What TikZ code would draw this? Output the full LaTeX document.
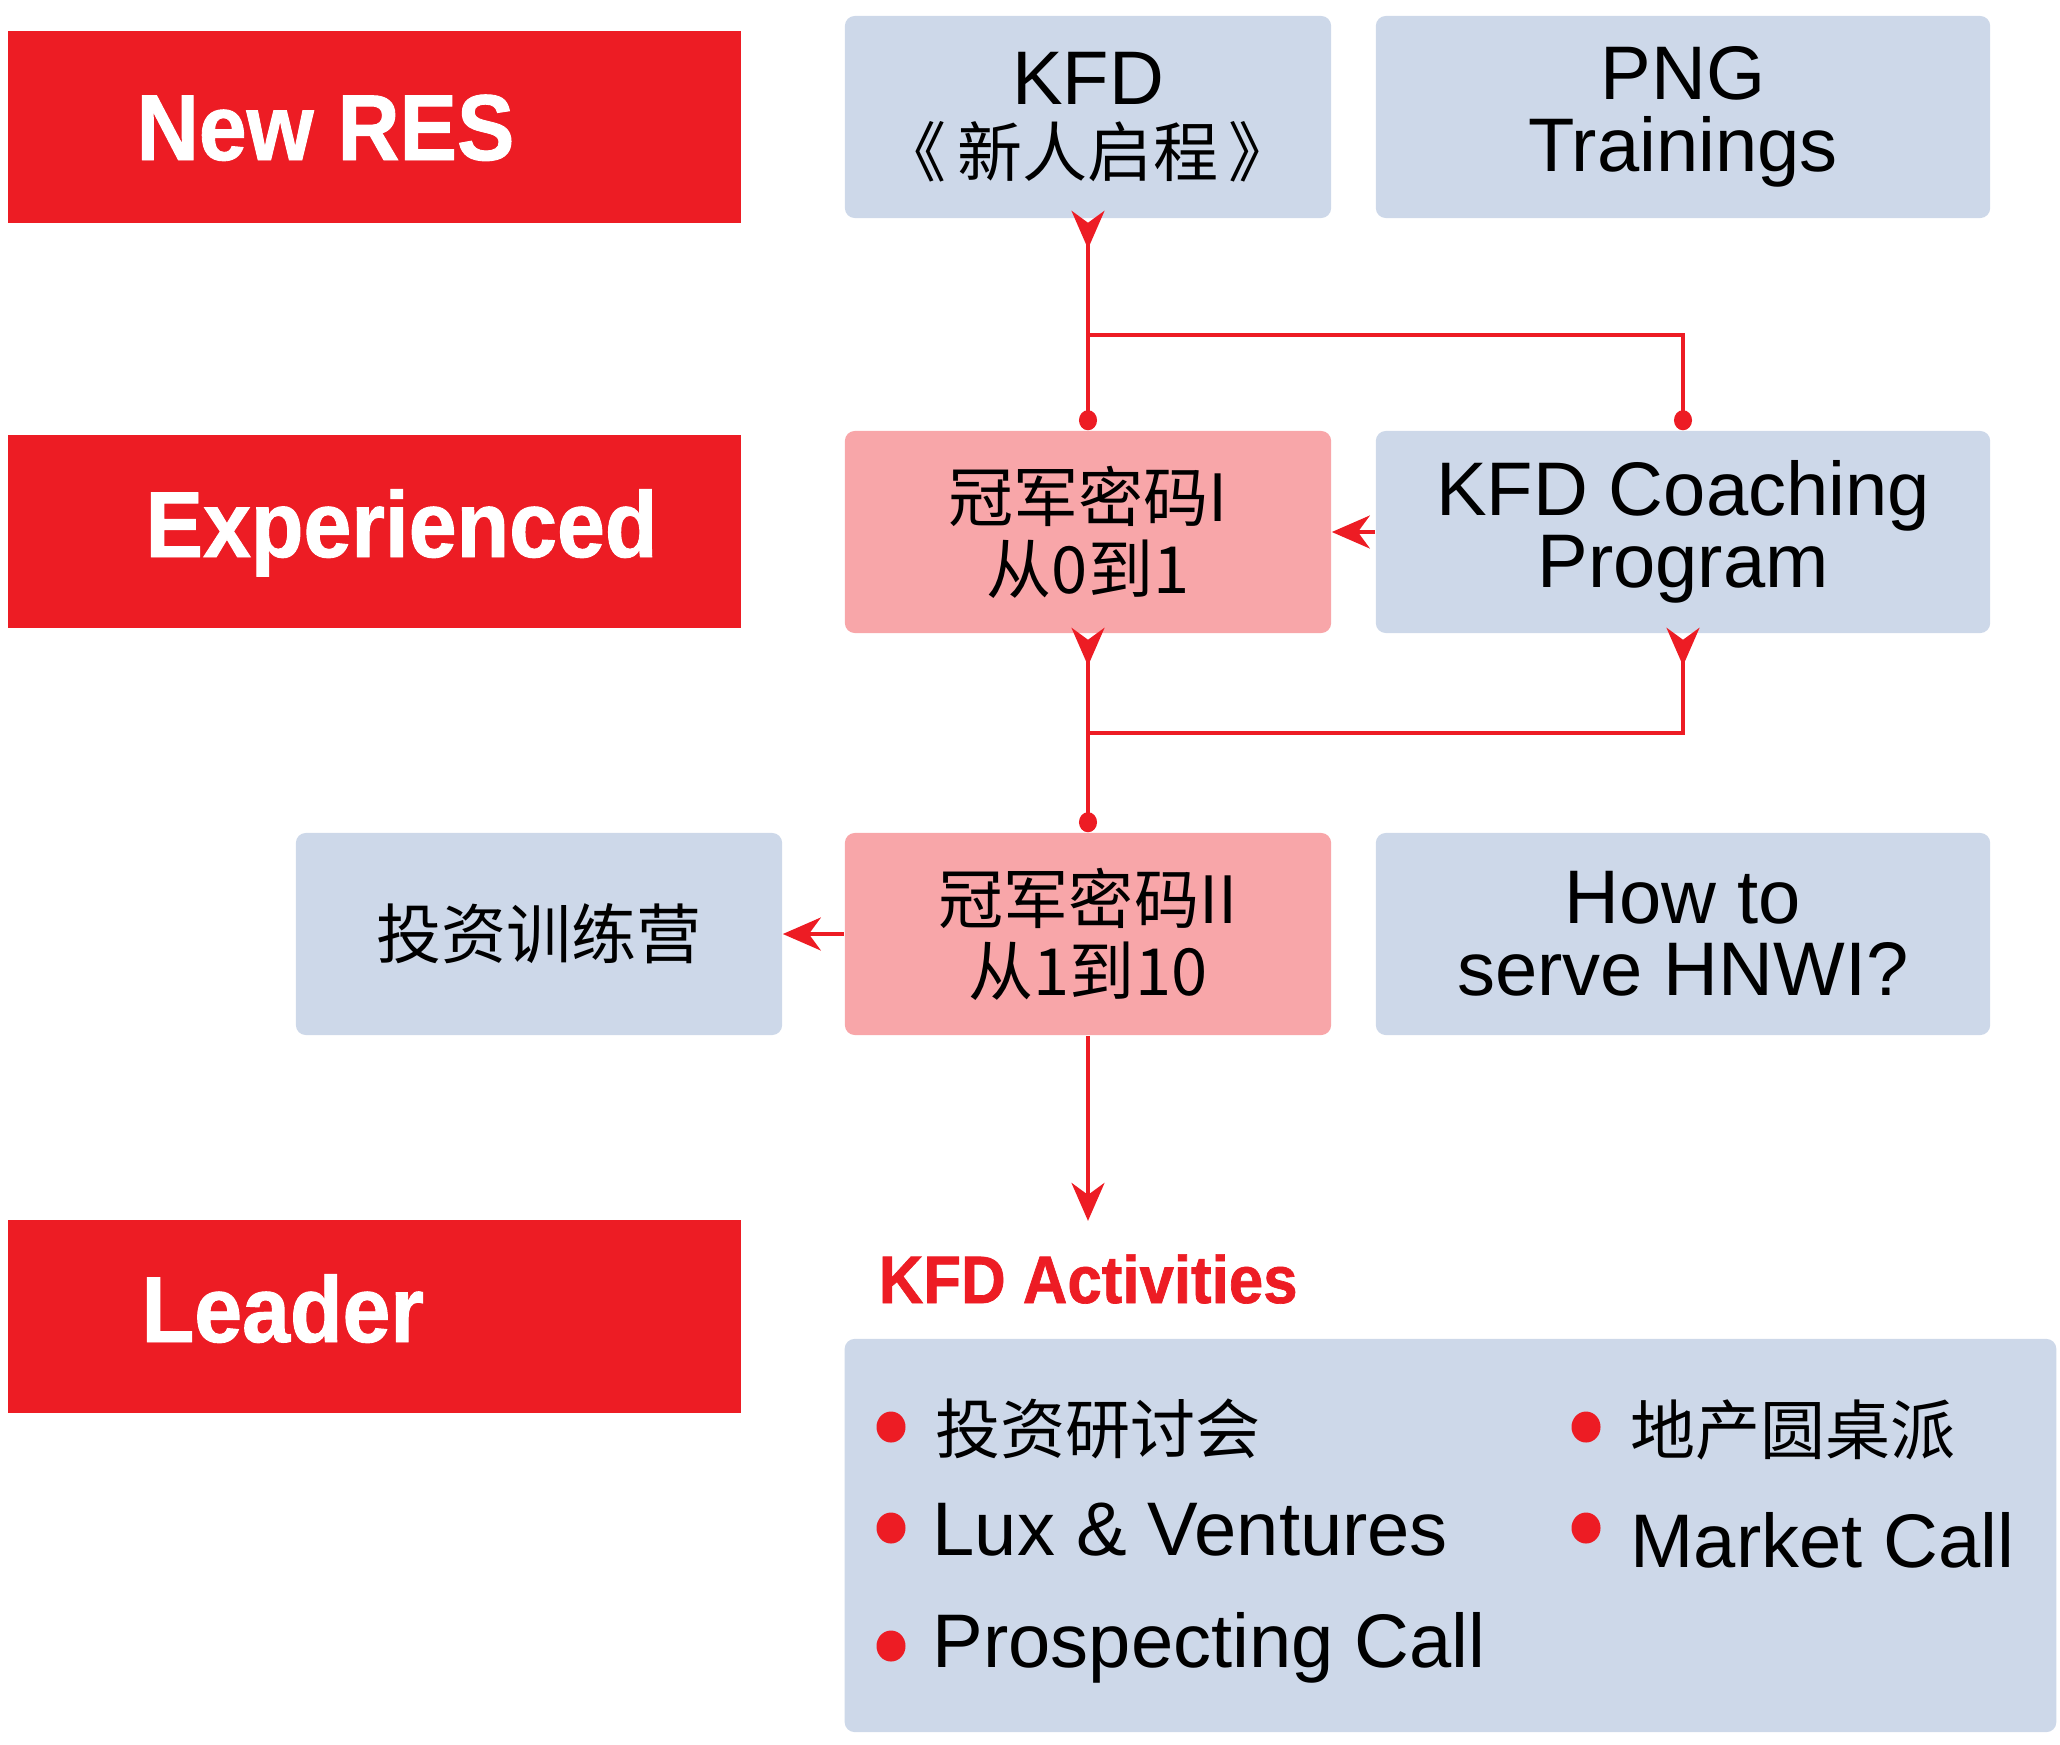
\documentclass[tikz,border=0pt]{standalone}
\usepackage{fontspec}
\setmainfont{Liberation Sans}
\newfontfamily\cjk{Noto Sans CJK SC}
\newfontfamily\heavyfont{Liberation Sans Bold}[FakeStretch=0.92, FakeBold=1]
\usepackage{tikz}
\usetikzlibrary{arrows.meta,calc,positioning}
\definecolor{kfdred}{RGB}{237,28,36}
\definecolor{kfdblue}{RGB}{205,216,233}
\definecolor{kfdpink}{RGB}{248,166,169}
\newcommand{\zh}[1]{{\cjk\fontsize{18.5pt}{20.5pt}\selectfont #1}}
\tikzset{
  level/.style={fill=kfdred, minimum width=7.33cm, minimum height=1.92cm, inner sep=0pt},
  leveltext/.style={text=white, inner sep=0pt, font=\heavyfont\fontsize{26.6pt}{30pt}\selectfont},
  course/.style={fill=kfdblue, rounded corners=0.1cm, minimum width=4.86cm, minimum height=2.02cm,
    inner sep=0pt, align=center, font=\fontsize{21.6pt}{20.5pt}\selectfont},
  widecourse/.style={course, minimum width=6.14cm},
  core/.style={course, fill=kfdpink, font=\cjk\fontsize{18.5pt}{20.5pt}\selectfont},
  link/.style={kfdred, line width=0.035cm},
  item/.style={inner sep=0pt, anchor=base west, font=\fontsize{21.6pt}{20.5pt}\selectfont}
}

\begin{document}
\begin{tikzpicture}[x=0.01cm, y=-0.01cm,
    >={Stealth[length=0.38cm, width=0.33cm, inset=0.12cm]}]
  \useasboundingbox (0,0) rectangle (2060,1745);
  % levels
  \node[level] (newres) at (374.5,127) {};
  \node[leveltext, anchor=base west] (newrestxt) at (136,160) {New RES};
  \node[level] (exp) at (374.5,531.5) {};
  \node[leveltext, anchor=base west] (exptxt) at (145,557) {Experienced};
  \node[level] (lead) at (374.5,1316.5) {};
  \node[leveltext, anchor=base west] (leadtxt) at (141,1342) {Leader};
  % courses
  \node[course] (kfd) at (1088,117) {KFD\\\zh{《\,新人启程\,》}};
  \node[widecourse] (png) at (1683,117) {PNG\\Trainings};
  \node[core] (ch1) at (1088,532) {冠军密码I\\从0到1};
  \node[widecourse] (coach) at (1683,532) {KFD Coaching\\Program};
  \node[course, font=\cjk\fontsize{18.5pt}{20.5pt}\selectfont] (camp) at (539,934) {投资训练营};
  \node[core] (ch2) at (1088,934) {冠军密码II\\从1到10};
  \node[widecourse] (hnwi) at (1683,934) {How to\\serve HNWI?};
  % connectors
  \coordinate (j1) at ($(kfd.south)!0.55!(ch1.north)$);
  \coordinate (j2) at ($(ch1.south)!0.5!(ch2.north)$);
  \coordinate[below=1.85cm of ch2.south] (acttop);
  \draw[link, {Stealth[reversed, length=0.38cm, width=0.33cm, inset=0.12cm]}-{Circle[length=0.2cm, width=0.18cm]}]
    ([yshift=0.08cm]kfd.south) -- (ch1.north);
  \draw[link, -{Circle[length=0.2cm, width=0.18cm]}] (j1) -| (coach.north);
  \draw[link, {Stealth[reversed, length=0.38cm, width=0.33cm, inset=0.12cm]}-{Circle[length=0.2cm, width=0.18cm]}]
    ([yshift=0.06cm]ch1.south) -- (ch2.north);
  \draw[link, {Stealth[reversed, length=0.38cm, width=0.33cm, inset=0.12cm]}-]
    ([yshift=0.06cm]coach.south) |- (j2);
  \draw[link, ->] (coach.west) -- (ch1.east);
  \draw[link, ->] (ch2.west) -- (camp.east);
  \draw[link, ->] (ch2.south) -- (acttop);
  % activities
  \node[text=kfdred, inner sep=0pt, anchor=base west, font=\heavyfont\fontsize{19.1pt}{22pt}\selectfont]
    (acthead) at (878,1303) {KFD Activities};
  \node[course, minimum width=12.11cm, minimum height=3.93cm] (actbox) at (1450.5,1535.5) {};
  \foreach \x/\y in {891/1427, 891/1528, 891/1646, 1586/1427, 1586/1528}
    \fill[kfdred] (\x,\y) ellipse[x radius=0.145cm, y radius=0.155cm];
  \node[item] (seminar) at (935,1453) {\zh{投资研讨会}};
  \node[item] (lux) at (932,1555) {Lux \& Ventures};
  \node[item] (prosp) at (932,1667) {Prospecting Call};
  \node[item] (round) at (1630,1454) {\zh{地产圆桌派}};
  \node[item] (market) at (1630,1567) {Market Call};
\end{tikzpicture}
\end{document}
